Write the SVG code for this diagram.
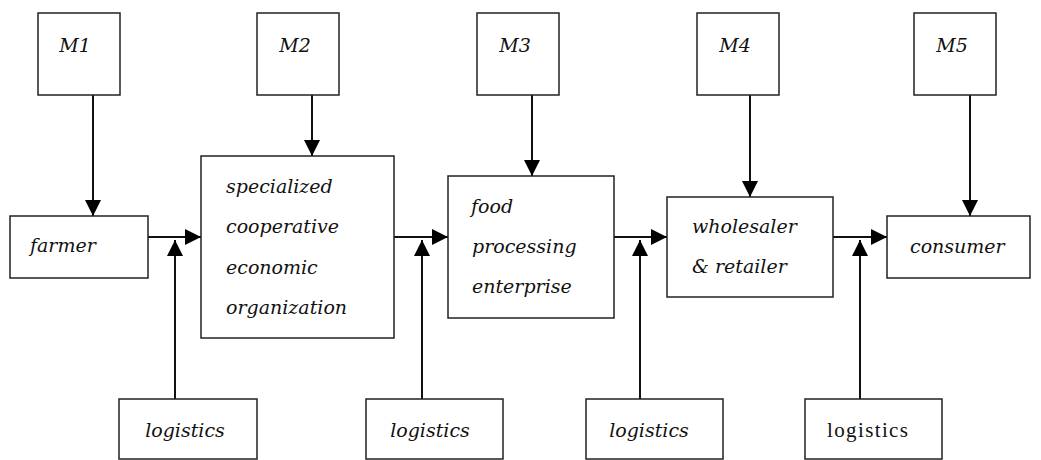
<svg xmlns="http://www.w3.org/2000/svg" width="1041" height="460" viewBox="0 0 1041 460">
<style>
.box{fill:#fff;stroke:#222;stroke-width:1.5}
.t{font-family:"DejaVu Serif",serif;font-style:italic;font-size:19px;fill:#111}
.u{font-family:"Liberation Serif",serif;font-size:21px;fill:#111}
.c{stroke:#111;stroke-width:2;fill:none}
</style>
<defs>
<marker id="ah" viewBox="0 0 16 16" refX="16" refY="8" markerWidth="16" markerHeight="16" markerUnits="userSpaceOnUse" orient="auto">
<path d="M0,0 L16,8 L0,16 Z" fill="#000"/>
</marker>
</defs>
<rect width="1041" height="460" fill="#fff"/>
<g id="connectors">
<line class="c" x1="93" y1="95" x2="93" y2="216" marker-end="url(#ah)"/>
<line class="c" x1="312" y1="95" x2="312" y2="156" marker-end="url(#ah)"/>
<line class="c" x1="532" y1="95" x2="532" y2="176" marker-end="url(#ah)"/>
<line class="c" x1="750" y1="95" x2="750" y2="197" marker-end="url(#ah)"/>
<line class="c" x1="970" y1="95" x2="970" y2="216" marker-end="url(#ah)"/>
<line class="c" x1="148" y1="237" x2="201" y2="237" marker-end="url(#ah)"/>
<line class="c" x1="394" y1="237" x2="448" y2="237" marker-end="url(#ah)"/>
<line class="c" x1="614" y1="237" x2="667" y2="237" marker-end="url(#ah)"/>
<line class="c" x1="833" y1="237" x2="887" y2="237" marker-end="url(#ah)"/>
<line class="c" x1="175" y1="399" x2="175" y2="240" marker-end="url(#ah)"/>
<line class="c" x1="422" y1="399" x2="422" y2="240" marker-end="url(#ah)"/>
<line class="c" x1="640" y1="399" x2="640" y2="240" marker-end="url(#ah)"/>
<line class="c" x1="860" y1="399" x2="860" y2="240" marker-end="url(#ah)"/>
</g>
<g id="M1"><rect class="box" x="38" y="13" width="82" height="82"/><text class="t" x="75" y="52" text-anchor="middle">M1</text></g>
<g id="M2"><rect class="box" x="257" y="13" width="82" height="82"/><text class="t" x="295" y="52" text-anchor="middle">M2</text></g>
<g id="M3"><rect class="box" x="477" y="13" width="82" height="82"/><text class="t" x="515" y="52" text-anchor="middle">M3</text></g>
<g id="M4"><rect class="box" x="697" y="13" width="82" height="82"/><text class="t" x="735" y="52" text-anchor="middle">M4</text></g>
<g id="M5"><rect class="box" x="914" y="13" width="82" height="82"/><text class="t" x="952" y="52" text-anchor="middle">M5</text></g>
<g id="farmer"><rect class="box" x="10" y="216" width="138" height="62"/><text class="t" x="30" y="252">farmer</text></g>
<g id="cooperative"><rect class="box" x="201" y="156" width="193" height="182"/>
<text class="t" x="226" y="193">specialized</text>
<text class="t" x="226" y="233">cooperative</text>
<text class="t" x="226" y="274">economic</text>
<text class="t" x="226" y="314">organization</text></g>
<g id="food"><rect class="box" x="448" y="176" width="166" height="142"/>
<text class="t" x="471" y="213">food</text>
<text class="t" x="472" y="253">processing</text>
<text class="t" x="472" y="293">enterprise</text></g>
<g id="wholesaler"><rect class="box" x="667" y="197" width="166" height="100"/>
<text class="t" x="692" y="233">wholesaler</text>
<text class="t" x="692" y="273">&amp; retailer</text></g>
<g id="consumer"><rect class="box" x="887" y="216" width="143" height="62"/><text class="t" x="910" y="253">consumer</text></g>
<g id="logistics1"><rect class="box" x="119" y="399" width="138" height="60"/><text class="t" x="185" y="437" text-anchor="middle">logistics</text></g>
<g id="logistics2"><rect class="box" x="366" y="399" width="137" height="60"/><text class="t" x="430" y="437" text-anchor="middle">logistics</text></g>
<g id="logistics3"><rect class="box" x="586" y="399" width="137" height="60"/><text class="t" x="649" y="437" text-anchor="middle">logistics</text></g>
<g id="logistics4"><rect class="box" x="805" y="399" width="137" height="60"/><text class="u" x="827" y="437" textLength="81" lengthAdjust="spacing">logistics</text></g>
</svg>
